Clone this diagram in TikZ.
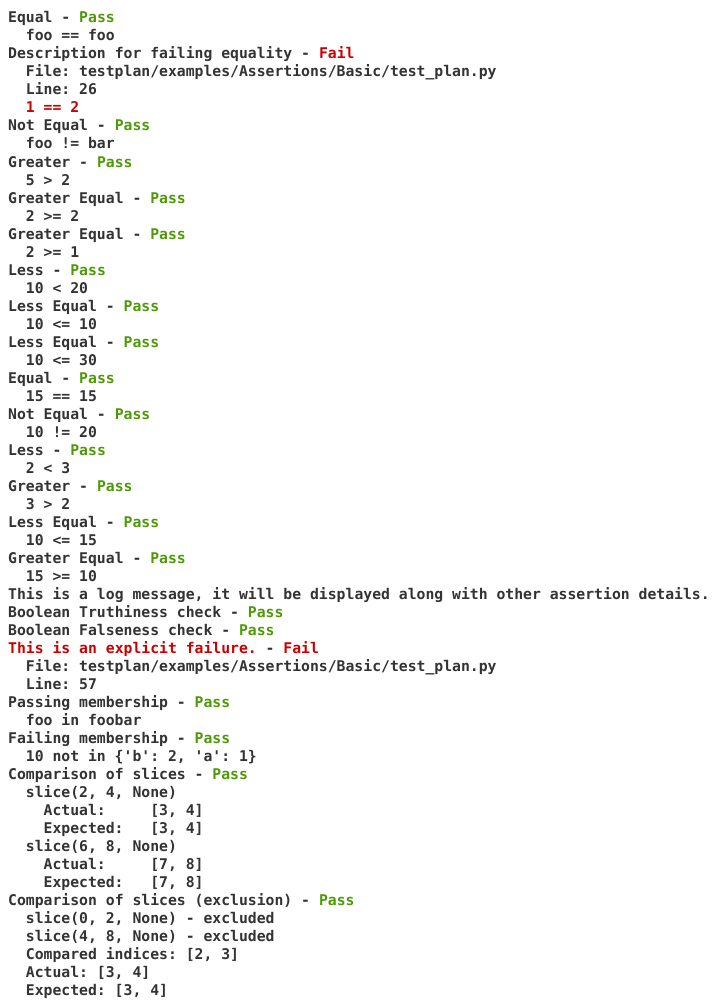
\documentclass[tikz,border=0pt]{standalone}
\usepackage{fontspec}
\setmonofont{DejaVu Sans Mono}
\definecolor{txt}{RGB}{51,51,51}
\definecolor{ok}{RGB}{78,154,6}
\definecolor{bad}{RGB}{204,0,0}
\newcommand\passw{\textcolor{ok}{Pass}}
\newcommand\failw{\textcolor{bad}{Fail}}
\newcommand\tline[3]{\node[lt] (l#1) at ({(8+8.875*#2)*1pt},{-(23+18*(#1-1))*1pt}) {#3};}
\begin{document}
\begin{tikzpicture}[x=1pt,y=1pt,lt/.style={anchor=base west,inner sep=0pt,text=txt,font=\ttfamily\bfseries\fontsize{14.75}{18}\selectfont}]
\useasboundingbox (0,0) rectangle (721,-1006);
\fill[white] (0,0) rectangle (721,-1006);
\tline{1}{0}{Equal - \passw}
\tline{2}{2}{foo == foo}
\tline{3}{0}{Description for failing equality - \failw}
\tline{4}{2}{File: testplan/examples/Assertions/Basic/test\_plan.py}
\tline{5}{2}{Line: 26}
\tline{6}{2}{\textcolor{bad}{1 == 2}}
\tline{7}{0}{Not Equal - \passw}
\tline{8}{2}{foo != bar}
\tline{9}{0}{Greater - \passw}
\tline{10}{2}{5 > 2}
\tline{11}{0}{Greater Equal - \passw}
\tline{12}{2}{2 >= 2}
\tline{13}{0}{Greater Equal - \passw}
\tline{14}{2}{2 >= 1}
\tline{15}{0}{Less - \passw}
\tline{16}{2}{10 < 20}
\tline{17}{0}{Less Equal - \passw}
\tline{18}{2}{10 <= 10}
\tline{19}{0}{Less Equal - \passw}
\tline{20}{2}{10 <= 30}
\tline{21}{0}{Equal - \passw}
\tline{22}{2}{15 == 15}
\tline{23}{0}{Not Equal - \passw}
\tline{24}{2}{10 != 20}
\tline{25}{0}{Less - \passw}
\tline{26}{2}{2 < 3}
\tline{27}{0}{Greater - \passw}
\tline{28}{2}{3 > 2}
\tline{29}{0}{Less Equal - \passw}
\tline{30}{2}{10 <= 15}
\tline{31}{0}{Greater Equal - \passw}
\tline{32}{2}{15 >= 10}
\tline{33}{0}{This is a log message, it will be displayed along with other assertion details.}
\tline{34}{0}{Boolean Truthiness check - \passw}
\tline{35}{0}{Boolean Falseness check - \passw}
\tline{36}{0}{\textcolor{bad}{This is an explicit failure.} - \failw}
\tline{37}{2}{File: testplan/examples/Assertions/Basic/test\_plan.py}
\tline{38}{2}{Line: 57}
\tline{39}{0}{Passing membership - \passw}
\tline{40}{2}{foo in foobar}
\tline{41}{0}{Failing membership - \passw}
\tline{42}{2}{10 not in \{'b': 2, 'a': 1\}}
\tline{43}{0}{Comparison of slices - \passw}
\tline{44}{2}{slice(2, 4, None)}
\tline{45}{4}{Actual:\ \ \ \ \ [3, 4]}
\tline{46}{4}{Expected:\ \ \ [3, 4]}
\tline{47}{2}{slice(6, 8, None)}
\tline{48}{4}{Actual:\ \ \ \ \ [7, 8]}
\tline{49}{4}{Expected:\ \ \ [7, 8]}
\tline{50}{0}{Comparison of slices (exclusion) - \passw}
\tline{51}{2}{slice(0, 2, None) - excluded}
\tline{52}{2}{slice(4, 8, None) - excluded}
\tline{53}{2}{Compared indices: [2, 3]}
\tline{54}{2}{Actual: [3, 4]}
\tline{55}{2}{Expected: [3, 4]}
\end{tikzpicture}
\end{document}
